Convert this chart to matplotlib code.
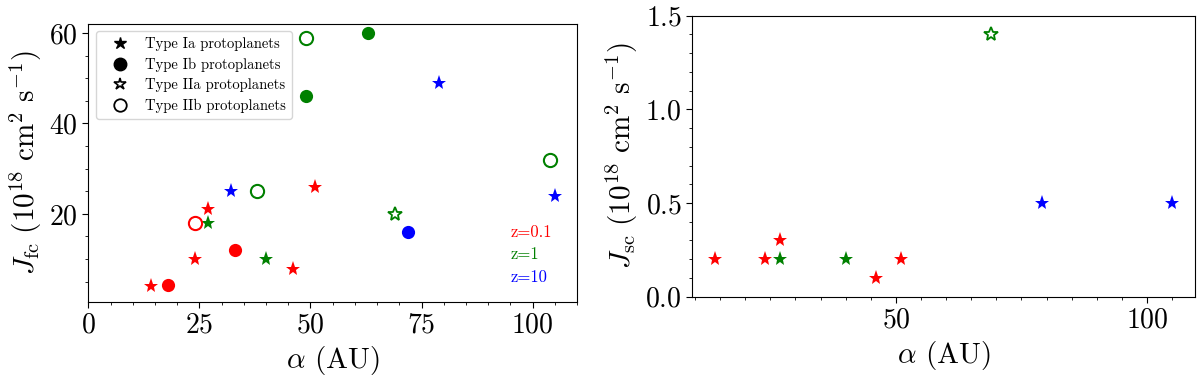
import matplotlib
matplotlib.use("Agg")
import matplotlib.pyplot as plt
from matplotlib.lines import Line2D
from matplotlib.ticker import MultipleLocator

plt.rcParams['font.family'] = 'serif'
plt.rcParams['font.serif'] = ['cmr10', 'DejaVu Serif']
plt.rcParams['mathtext.fontset'] = 'cm'
plt.rcParams['axes.formatter.use_mathtext'] = True

# left panel: J_fc (1e18 cm^2/s) against alpha (AU)
# Type Ia (filled stars)
ia_red_x = [14, 24, 27, 46, 51]
ia_red_fc = [4, 10, 21, 7.8, 26]
ia_green_x = [27, 40]
ia_green_fc = [18, 10]
ia_blue_x = [32, 79, 105]
ia_blue_fc = [25, 49, 24]
# Type Ib (filled circles)
ib_red_x = [18, 33]
ib_red_fc = [4.2, 12]
ib_green_x = [49, 63]
ib_green_fc = [46, 60]
ib_blue_x = [72]
ib_blue_fc = [16]
# Type IIa (open stars)
iia_green_x = [69]
iia_green_fc = [20]
# Type IIb (open circles)
iib_red_x = [24]
iib_red_fc = [18]
iib_green_x = [38, 49, 104]
iib_green_fc = [25, 59, 32]

# right panel: J_sc
sc_red_x = [14, 24, 27, 46, 51]
sc_red = [0.2, 0.2, 0.3, 0.1, 0.2]
sc_green_x = [27, 40]
sc_green = [0.2, 0.2]
sc_blue_x = [79, 105]
sc_blue = [0.5, 0.5]
sc_iia_x = [69]
sc_iia = [1.4]

z_labels = ["z=0.1", "z=1", "z=10"]
z_colors = ["red", "green", "blue"]

fig = plt.figure(figsize=(12, 3.85), dpi=100)
ax1 = fig.add_axes([0.0736, 0.2156, 0.4073, 0.7221])
ax2 = fig.add_axes([0.5769, 0.2294, 0.4189, 0.7299])

star = dict(marker='*', linestyle='none', markersize=11, markeredgewidth=0)
ostar = dict(marker='*', linestyle='none', markersize=10, markerfacecolor='white', markeredgewidth=1.3)
circ = dict(marker='o', linestyle='none', markersize=9.5, markeredgewidth=0)
ocirc = dict(marker='o', linestyle='none', markersize=9.5, markerfacecolor='white', markeredgewidth=1.5)

ax1.plot(ia_red_x, ia_red_fc, color='red', **star)
ax1.plot(ia_green_x, ia_green_fc, color='green', **star)
ax1.plot(ia_blue_x, ia_blue_fc, color='blue', **star)
ax1.plot(ib_red_x, ib_red_fc, color='red', **circ)
ax1.plot(ib_green_x, ib_green_fc, color='green', **circ)
ax1.plot(ib_blue_x, ib_blue_fc, color='blue', **circ)
ax1.plot(iia_green_x, iia_green_fc, color='green', markeredgecolor='green', **ostar)
ax1.plot(iib_red_x, iib_red_fc, color='red', markeredgecolor='red', **ocirc)
ax1.plot(iib_green_x, iib_green_fc, color='green', markeredgecolor='green', **ocirc)

for i, (lab, col) in enumerate(zip(z_labels, z_colors)):
    ax1.text(95, 16 - 5 * i, lab, color=col, fontsize=12, va='center', ha='left')

handles = [
    Line2D([], [], color='black', marker='*', linestyle='none', markersize=9),
    Line2D([], [], color='black', marker='o', linestyle='none', markersize=9),
    Line2D([], [], color='black', marker='*', linestyle='none', markersize=9,
           markerfacecolor='white', markeredgewidth=1.2),
    Line2D([], [], color='black', marker='o', linestyle='none', markersize=9,
           markerfacecolor='white', markeredgewidth=1.3),
]
labels = ["Type Ia protoplanets", "Type Ib protoplanets",
          "Type IIa protoplanets", "Type IIb protoplanets"]
ax1.legend(handles, labels, loc='upper left', fontsize=10.5, handlelength=2.5,
           handletextpad=0.5, borderpad=0.4, labelspacing=0.45)

ax1.set_xlim(0, 110)
ax1.set_ylim(0.5, 62)
ax1.xaxis.set_major_locator(MultipleLocator(25))
ax1.xaxis.set_minor_locator(MultipleLocator(5))
ax1.yaxis.set_major_locator(MultipleLocator(20))
ax1.yaxis.set_minor_locator(MultipleLocator(5))
ax1.set_xlabel(r'$\alpha$ (AU)', fontsize=21)
ax1.set_ylabel(r'$J_{\rm fc}\ (10^{18}\ {\rm cm}^2\ {\rm s}^{-1})$', fontsize=21)

ax2.plot(sc_red_x, sc_red, color='red', **star)
ax2.plot(sc_green_x, sc_green, color='green', **star)
ax2.plot(sc_blue_x, sc_blue, color='blue', **star)
ax2.plot(sc_iia_x, sc_iia, color='green', markeredgecolor='green', **ostar)
ax2.set_ylim(0, 1.5)
ax2.xaxis.set_major_locator(MultipleLocator(50))
ax2.xaxis.set_minor_locator(MultipleLocator(5))
ax2.yaxis.set_major_locator(MultipleLocator(0.5))
ax2.yaxis.set_minor_locator(MultipleLocator(0.1))
ax2.set_xlabel(r'$\alpha$ (AU)', fontsize=21)
ax2.set_ylabel(r'$J_{\rm sc}\ (10^{18}\ {\rm cm}^2\ {\rm s}^{-1})$', fontsize=21)

for ax in (ax1, ax2):
    ax.tick_params(which='major', labelsize=20, length=4)
    ax.tick_params(which='minor', length=2.5)

fig.savefig("out.png", dpi=100)
